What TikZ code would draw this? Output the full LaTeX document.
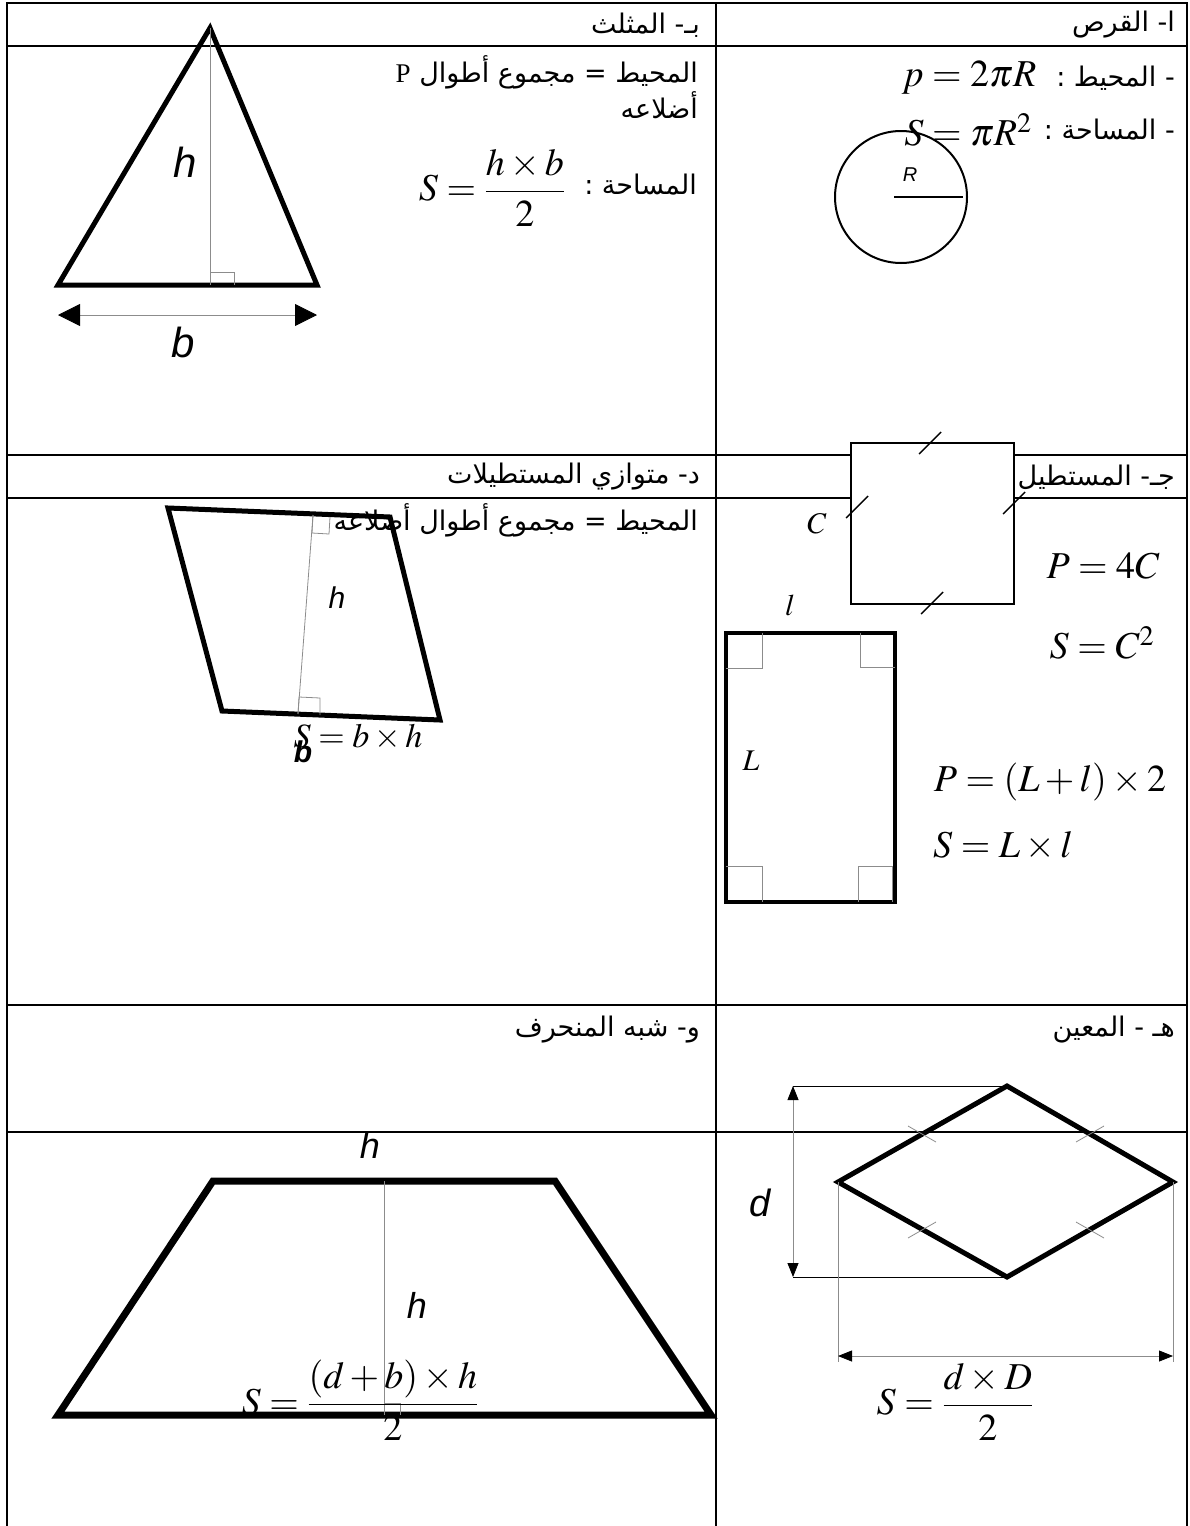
\documentclass[tikz,border=0pt]{standalone}
\usepackage{amsmath}
\usepackage{mathptmx}
\usepackage[no-math]{fontspec}
\usetikzlibrary{arrows.meta}
\TeXXeTstate=1
\newfontfamily\arfont[Script=Arabic]{DejaVu Sans}
\newfontfamily\lblfont{Liberation Sans}
\newfontfamily\serfont{Liberation Serif}
\newcommand{\artxt}[1]{\arfont\beginR #1\endR}

\tikzset{
  tabline/.style={line width=1.6pt},
  figline/.style={line width=5pt, line join=miter},
  helper/.style={line width=0.8pt, black!45},
  artext/.style={anchor=east, inner sep=0pt, font=\fontsize{27}{31}\selectfont},
  formula/.style={inner sep=0pt, font=\fontsize{38}{44}\selectfont},
  letter/.style={inner sep=0pt, font=\lblfont\itshape\fontsize{42}{46}\selectfont},
  varname/.style={inner sep=0pt, font=\fontsize{30}{34}\selectfont},
  marktick/.style={line width=1.4pt},
  dimline/.style={helper, {Triangle[length=14pt,width=11pt,black]}-{Triangle[length=14pt,width=11pt,black]}}
}

\begin{document}
\begin{tikzpicture}[x=1pt,y=-1pt]
\useasboundingbox (0,0) rectangle (1189,1526);

% table
\draw[tabline] (7,1526) -- (7,3) -- (1187,3) -- (1187,1526);
\draw[tabline] (716,3) -- (716,1526);
\foreach \y in {46,455,498,1005,1132}
  \draw[tabline] (7,\y) -- (1187,\y);

% headers
\node[artext] (hdA) at (1175,25) {\artxt{ا- القرص}};
\node[artext] (hdB) at (700,25) {\artxt{بـ- المثلث}};
\node[artext] (hdC) at (1175,477) {\artxt{جـ- المستطيل}};
\node[artext] (hdD) at (700,477) {\artxt{د- متوازي المستطيلات}};
\node[artext] (hdE) at (1175,1030) {\artxt{هـ - المعين}};
\node[artext] (hdF) at (700,1030) {\artxt{و- شبه المنحرف}};

% disc
\node[artext] (dPer) at (1175,78) {\artxt{- المحيط :}};
\node[artext] (dAre) at (1175,130) {\artxt{- المساحة :}};
\node[formula] (dPf) at (969,78) {$p = 2\pi R$};
\node[formula] (dSf) at (968,130) {$S = \pi R^{2}$};
\coordinate (dO) at (901,197);
\coordinate (dR) at (963,197);
\draw[line width=2pt] (dO) circle (66);
\draw[line width=2.4pt] (894,197) -- (dR);
\node[inner sep=0pt, font=\lblfont\itshape\fontsize{20}{24}\selectfont] (dRl) at (910,175) {R};

% triangle
\coordinate (tA) at (210,28);
\coordinate (tB) at (58,285);
\coordinate (tC) at (317,285);
\coordinate (tH) at (210,285);
\draw[figline] (tA) -- (tB) -- (tC) -- cycle;
\draw[helper] (tA) -- (tH);
\draw[helper] (210,272) -- (234,272) -- (234,285);
\coordinate (tL) at (58,315);
\coordinate (tR) at (317,315);
\draw[helper, {Triangle[length=22pt,width=22pt,black]}-{Triangle[length=22pt,width=22pt,black]}] (tL) -- (tR);
\node[letter] (tHl) at (185,162) {h};
\node[letter] (tBl) at (183,342) {b};
\node[artext] (tPer) at (698,72) {\artxt{المحيط = مجموع أطوال {\serfont P}}};
\node[artext] (tPer2) at (698,105) {\artxt{أضلاعه}};
\node[artext] (tAre) at (697,185) {\artxt{المساحة :}};
\node[formula] (tSf) at (492,188) {$S = \dfrac{h\times b}{2}$};

% square and rectangle
\coordinate (qA) at (851,443);
\coordinate (qB) at (1014,604);
\draw[line width=2.2pt, fill=white] (qA) rectangle (qB);
\foreach \cx/\cy in {930/443, 932/603, 857/507, 1014/503}
  \draw[marktick] (\cx-11,\cy+11) -- (\cx+11,\cy-11);
\node[varname] (qCl) at (817,524) {$C$};
\node[formula] (qPf) at (1103,566) {$P = 4C$};
\node[formula] (qSf) at (1102,643) {$S = C^{2}$};
\node[varname] (rll) at (790,605) {$l$};
\coordinate (rA) at (726,633);
\coordinate (rB) at (895,902);
\draw[line width=3.4pt] (rA) rectangle (rB);
\draw[helper] (726,668) -- (762,668) -- (762,633);
\draw[helper] (860,633) -- (860,667) -- (895,667);
\draw[helper] (726,866) -- (762,866) -- (762,902);
\draw[helper] (858,902) -- (858,866) -- (892,866) -- (892,902);
\node[varname] (rLl) at (751,761) {$L$};
\node[formula] (rPf) at (1050,782) {$P = \left(L + l\right)\times 2$};
\node[formula] (rSf) at (1003,846) {$S = L\times l$};

% parallelogram
\coordinate (pA) at (168,508);
\coordinate (pB) at (390,517);
\coordinate (pC) at (440,720);
\coordinate (pD) at (222,711);
\draw[figline] (pA) -- (pB) -- (pC) -- (pD) -- cycle;
\coordinate (pT) at (313,515);
\coordinate (pF) at (298,714);
\draw[helper] (pT) -- (pF);
\draw[helper] (313,515) -- (312,533) -- (329,534) -- (330,517);
\draw[helper] (298,714) -- (299,697) -- (320,698) -- (320,715);
\node[artext] (pPer) at (698,520) {\artxt{المحيط = مجموع أطوال أضلاعه}};
\node[inner sep=0pt, font=\lblfont\itshape\fontsize{30}{34}\selectfont] (pHl) at (337,598) {h};
\node[formula, font=\fontsize{34}{40}\selectfont] (pSf) at (358,737) {$S = b\times h$};
\node[inner sep=0pt, font=\lblfont\bfseries\itshape\fontsize{30}{34}\selectfont] (pBl) at (303,752) {b};

% rhombus
\coordinate (mT) at (1007,1086);
\coordinate (mR) at (1173,1182);
\coordinate (mB) at (1007,1277);
\coordinate (mL) at (838,1182);
\draw[figline] (mT) -- (mR) -- (mB) -- (mL) -- cycle;
\foreach \cx/\cy/\dx/\dy in {922/1134/14/8, 1090/1134/14/-8, 922/1230/14/-8, 1090/1230/14/8}
  \draw[helper] (\cx-\dx,\cy-\dy) -- (\cx+\dx,\cy+\dy);
\coordinate (mdT) at (793,1086);
\coordinate (mdB) at (793,1277);
\draw[line width=0.8pt] (mdT) -- (mT);
\draw[line width=0.8pt] (mdB) -- (mB);
\draw[dimline] (mdT) -- (mdB);
\coordinate (mDL) at (838,1356);
\coordinate (mDR) at (1173,1356);
\draw[helper] (mL) -- (838,1362);
\draw[helper] (mR) -- (1173,1362);
\draw[dimline] (mDL) -- (mDR);
\node[inner sep=0pt, font=\lblfont\itshape\fontsize{38}{42}\selectfont] (mdl) at (760,1203) {d};
\node[formula] (mSf) at (955,1402) {$S = \dfrac{d\times D}{2}$};

% trapezoid
\coordinate (zA) at (213,1181);
\coordinate (zB) at (555,1181);
\coordinate (zC) at (711,1415);
\coordinate (zD) at (58,1415);
\draw[line width=7pt, line join=miter] (zA) -- (zB) -- (zC) -- (zD) -- cycle;
\coordinate (zT) at (384,1181);
\coordinate (zF) at (384,1415);
\draw[helper] (zT) -- (zF);
\draw[helper] (384,1403) -- (400,1403) -- (400,1415);
\node[inner sep=0pt, font=\lblfont\itshape\fontsize{36}{40}\selectfont] (zBl) at (370,1145) {h};
\node[inner sep=0pt, font=\lblfont\itshape\fontsize{36}{40}\selectfont] (zHl) at (417,1305) {h};
\node[formula] (zSf) at (360,1400) {$S = \dfrac{\left(d + b\right)\times h}{2}$};

\end{tikzpicture}
\end{document}
